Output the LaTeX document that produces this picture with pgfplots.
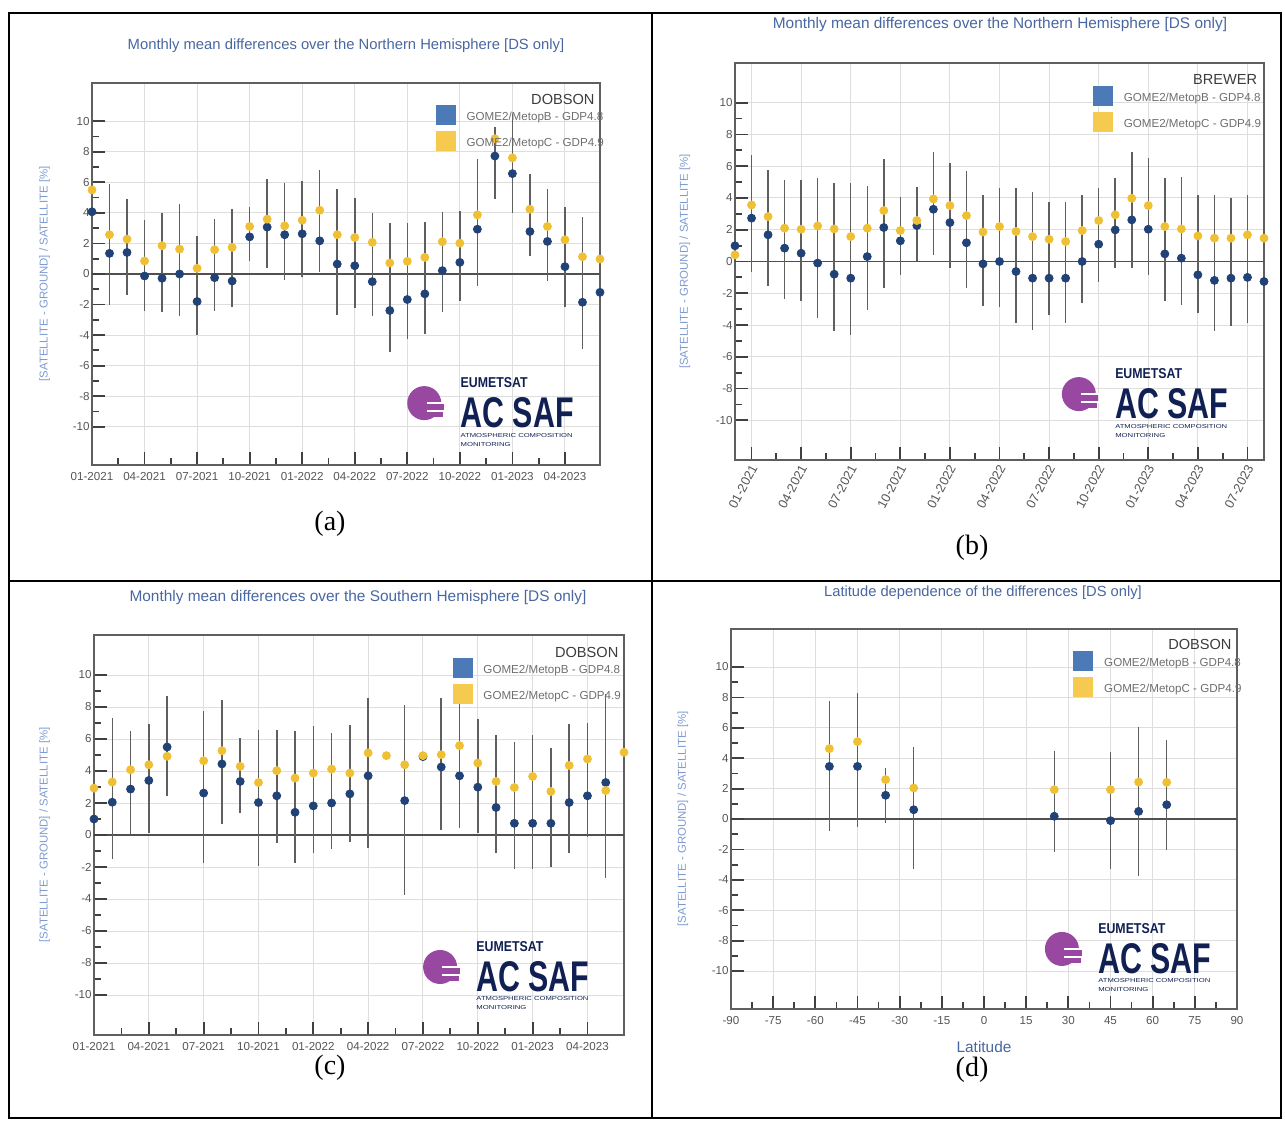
\documentclass[border=0pt]{standalone}
\usepackage{fontspec}
\setmainfont{Liberation Sans}
\newfontfamily\capfont{Liberation Serif}
\usepackage{graphicx}
\usepackage{pgfplots}
\pgfplotsset{compat=1.18}
\usepackage{pgfplotstable}

\definecolor{titleblue}{RGB}{72,102,160}
\definecolor{ylabblue}{RGB}{125,155,210}
\definecolor{ticklab}{RGB}{85,85,85}
\definecolor{dotblue}{RGB}{32,66,118}
\definecolor{dotyellow}{RGB}{240,192,52}
\definecolor{legblue}{RGB}{76,122,182}
\definecolor{legyellow}{RGB}{246,202,78}
\definecolor{legtext}{RGB}{110,110,110}
\definecolor{dobtext}{RGB}{60,60,60}
\definecolor{errgray}{RGB}{95,95,95}
\definecolor{gridgray}{RGB}{222,222,222}
\definecolor{framegray}{RGB}{95,95,95}
\definecolor{zerogray}{RGB}{80,80,80}
\definecolor{logopurple}{RGB}{152,72,160}
\definecolor{logonavy}{RGB}{16,32,82}

\newcommand\tfont{\fontsize{5.8}{7}\selectfont}
\newcommand\ylfont{\fontsize{5.7}{7}\selectfont}
\newcommand\legfont{\fontsize{5.8}{7}\selectfont}
\newcommand\dobfont{\fontsize{7.3}{8}\selectfont}

% months counted from 01-2021 = 0; b = MetopB, y = MetopC, lo/hi = spread
\pgfplotstableread{
m b y lo hi
0 4.07 5.50 nan nan
1 1.35 2.57 -2.02 5.87
2 1.41 2.28 -1.37 4.90
3 -0.13 0.85 -2.39 3.54
4 -0.28 1.85 -2.50 3.98
5 0.00 1.63 -2.72 4.57
6 -1.80 0.37 -4.02 2.50
7 -0.24 1.59 -2.39 3.59
8 -0.46 1.74 -2.17 4.24
9 2.43 3.11 0.87 4.41
10 3.07 3.59 0.37 6.20
11 2.57 3.15 -0.37 5.98
12 2.63 3.52 -0.20 6.09
13 2.17 4.17 0.10 6.80
14 0.65 2.57 -2.67 5.59
15 0.54 2.39 -2.24 5.00
16 -0.50 2.07 -2.76 4.02
17 -2.39 0.72 -5.10 3.33
18 -1.67 0.83 -4.28 3.37
19 -1.30 1.09 -3.90 3.41
20 0.22 2.11 -2.50 4.07
21 0.76 2.02 -1.74 4.13
22 2.93 3.87 -0.80 7.54
23 7.72 8.85 4.90 9.60
24 6.57 7.60 4.00 10.50
25 2.78 4.24 1.20 6.52
26 2.13 3.11 -0.43 5.54
27 0.48 2.24 -2.17 4.41
28 -1.85 1.13 -4.90 3.70
29 -1.20 0.98 -1.20 -1.20
}\tabA

\pgfplotstableread{
m b y lo hi
-1 0.99 0.42 0.99 0.99
0 2.73 3.56 -0.63 6.70
1 1.68 2.83 -1.53 5.77
2 0.84 2.10 -2.37 5.14
3 0.52 2.03 -2.50 5.14
4 -0.10 2.24 -3.56 5.28
5 -0.80 2.05 -4.36 4.93
6 -1.05 1.57 -4.60 4.93
7 0.31 2.10 -3.04 4.76
8 2.14 3.21 -1.68 6.44
9 1.30 1.95 -0.84 4.03
10 2.26 2.58 0.00 4.68
11 3.29 3.94 0.42 6.88
12 2.45 3.52 -0.42 6.18
13 1.18 2.89 -1.70 5.68
14 -0.15 1.86 -2.83 4.19
15 0.00 2.20 -2.87 4.61
16 -0.63 1.89 -3.88 4.61
17 -1.05 1.57 -4.30 4.36
18 -1.05 1.40 -3.35 3.77
19 -1.05 1.26 -3.88 3.77
20 0.00 1.95 -2.62 4.19
21 1.09 2.58 -1.26 4.61
22 1.99 2.94 -0.38 5.28
23 2.62 3.98 -0.38 6.92
24 2.03 3.52 -0.84 6.50
25 0.48 2.20 -2.50 5.24
26 0.21 2.05 -2.73 5.35
27 -0.84 1.61 -3.25 4.19
28 -1.19 1.47 -4.36 4.19
29 -1.05 1.47 -4.09 3.98
30 -1.00 1.68 -3.88 4.19
31 -1.26 1.47 -1.26 -1.26
}\tabB

\pgfplotstableread{
m b y lo hi
0 1.00 2.93 1.00 1.00
1 2.05 3.31 -1.53 7.32
2 2.87 4.08 0.00 6.49
3 3.41 4.39 0.10 6.95
4 5.50 4.92 2.41 8.68
5 nan nan nan nan
6 2.62 4.64 -1.78 7.74
7 4.44 5.27 0.67 8.41
8 3.35 4.29 1.36 6.07
9 2.03 3.28 -1.95 6.59
10 2.45 4.02 -0.52 6.59
11 1.42 3.56 -1.78 6.53
12 1.82 3.87 -1.11 6.80
13 2.00 4.12 -0.90 6.40
14 2.57 3.87 -0.42 6.90
15 3.70 5.13 -0.80 8.54
16 nan 4.96 0.88 9.00
17 2.15 4.39 -3.77 8.10
18 4.90 4.96 4.90 4.90
19 4.25 5.02 0.31 8.58
20 3.70 5.59 0.42 8.90
21 2.99 4.50 0.10 7.26
22 1.72 3.35 -1.15 6.28
23 0.73 2.97 -2.15 5.80
24 0.73 3.66 -2.15 6.23
25 0.73 2.72 -2.03 5.44
26 2.03 4.35 -1.11 6.95
27 2.45 4.75 -0.10 7.00
28 3.28 2.78 -2.66 8.79
29 nan 5.17 nan nan
}\tabC

\pgfplotstableread{
m b y lo hi
-55 3.46 4.63 -0.81 7.78
-45 3.46 5.09 -0.53 8.29
-35 1.56 2.59 -0.26 3.36
-25 0.61 2.04 -3.29 4.71
25 0.18 1.93 -2.19 4.45
45 -0.11 1.93 -3.29 4.38
55 0.50 2.43 -3.72 6.04
65 0.94 2.41 -2.01 5.21
}\tabD

\tikzset{acsaf/.pic={
  \fill[logopurple] (0pt,0pt) circle (8.5pt);
  \fill[logopurple] (5pt,-0.6pt) rectangle (9.8pt,-3.4pt);
  \fill[logopurple] (4pt,-4.6pt) rectangle (9.3pt,-7pt);
  \draw[white, line width=0.9pt] (1.2pt,0pt) -- (10.5pt,0pt);
  \draw[white, line width=0.9pt] (1.2pt,-4pt) -- (10.5pt,-4pt);
  \node[anchor=south west, inner sep=0pt, text=logonavy] at (18pt,7.5pt)
    {\resizebox{33.5pt}{5pt}{\bfseries EUMETSAT}};
  \node[anchor=south west, inner sep=0pt, text=logonavy] at (18pt,-12.5pt)
    {\resizebox{56.5pt}{15pt}{\bfseries AC SAF}};
  \node[anchor=west, inner sep=0pt, text=logonavy] at (18pt,-16pt)
    {\resizebox{56pt}{2pt}{ATMOSPHERIC COMPOSITION}};
  \node[anchor=west, inner sep=0pt, text=logonavy] at (18pt,-20.5pt)
    {\resizebox{25pt}{2pt}{MONITORING}};
}}

\pgfplotsset{
  acstyle/.style={
    scale only axis,
    ymin=-12.5, ymax=12.5,
    ytick={-10,-8,...,10},
    minor y tick num=1, minor x tick num=1,
    tick align=inside, xtick pos=left, ytick pos=left,
    major tick length=6.5pt, minor tick length=3.5pt,
    tick style={black!75, line width=0.9pt},
    grid=major, major grid style={gridgray, line width=0.5pt},
    axis line style={framegray, line width=0.8pt},
    /pgf/number format/assume math mode=true,
    tick label style={font=\tfont, text=ticklab},
    yticklabel style={inner sep=1pt},
    extra y ticks={0}, extra y tick labels={},
    extra y tick style={major grid style={zerogray, line width=0.6pt}},
    every axis y label/.style={at={(axis description cs:-0.093,0.5)}, rotate=90,
      anchor=center, font=\ylfont, text=ylabblue},
    ylabel={{[}SATELLITE - GROUND{]} / SATELLITE [\%]},
    legend style={at={(0.676,0.943)}, anchor=north west, draw=none, fill=none,
      font=\legfont, text=legtext, inner sep=0pt, row sep=1.5pt, column sep=3.5pt},
    legend cell align=left,
  },
  blues/.style={only marks, mark=*, mark size=2pt, color=dotblue,
    legend image code/.code={\fill[legblue] (0pt,-3.25pt) rectangle (9.5pt,6.25pt);},
    error bars/.cd, y dir=both, y explicit, error mark=none,
    error bar style={errgray, line width=0.75pt}},
  yellows/.style={only marks, mark=*, mark size=2pt, color=dotyellow,
    legend image code/.code={\fill[legyellow] (0pt,-3.25pt) rectangle (9.5pt,6.25pt);}},
}

% the spread bar is carried by the MetopB series
\newcommand\plotset[1]{%
  \addplot[blues] table[x=m, y=b,
    y error plus expr={\thisrow{hi}-\thisrow{b}},
    y error minus expr={\thisrow{b}-\thisrow{lo}}] {#1};
  \addlegendentry{GOME2/MetopB - GDP4.8}
  \addplot[yellows] table[x=m, y=y] {#1};
  \addlegendentry{GOME2/MetopC - GDP4.9}
}

\begin{document}
\begin{tikzpicture}
\useasboundingbox (0,0) rectangle (642.5pt,560pt);

% table frame
\draw[black, line width=1pt] (4.5pt,1pt) rectangle (640.5pt,553.5pt);
\draw[black, line width=1pt] (326pt,1pt) -- (326pt,553.5pt);
\draw[black, line width=1pt] (4.5pt,269.5pt) -- (640.5pt,269.5pt);

% (a)
\node[font=\fontsize{7.4}{8}\selectfont, text=titleblue] at (173pt,537pt)
  {Monthly mean differences over the Northern Hemisphere [DS only]};
\begin{axis}[acstyle, at={(46pt,327.5pt)}, anchor=south west,
  width=254pt, height=191pt, xmin=0, xmax=29,
  xtick={0,3,...,27},
  xticklabels={01-2021,04-2021,07-2021,10-2021,01-2022,04-2022,07-2022,10-2022,01-2023,04-2023}]
\plotset{\tabA}
\node[anchor=base east, inner sep=0pt, font=\dobfont, text=dobtext] at (rel axis cs:0.99,0.944) {DOBSON};
\pic at (rel axis cs:0.654,0.162) {acsaf};
\end{axis}
\node[font=\capfont\fontsize{14}{16}\selectfont] at (165pt,298pt) {(a)};

% (b)
\node[font=\fontsize{7.7}{8}\selectfont, text=titleblue] at (500pt,547.5pt)
  {Monthly mean differences over the Northern Hemisphere [DS only]};
\begin{axis}[acstyle, at={(367.5pt,330pt)}, anchor=south west,
  width=264.5pt, height=198.5pt, xmin=-1, xmax=31,
  xtick={0,3,...,30},
  xticklabels={01-2021,04-2021,07-2021,10-2021,01-2022,04-2022,07-2022,10-2022,01-2023,04-2023,07-2023},
  xticklabel style={font=\fontsize{6.4}{7}\selectfont, rotate=62, anchor=east, yshift=-2.5pt, xshift=1.5pt},
  ylabel style={at={(axis description cs:-0.0945,0.5)}}]
\plotset{\tabB}
\node[anchor=base east, inner sep=0pt, font=\dobfont, text=dobtext] at (rel axis cs:0.988,0.945) {BREWER};
\pic at (rel axis cs:0.65,0.166) {acsaf};
\end{axis}
\node[font=\capfont\fontsize{14}{16}\selectfont] at (486pt,286pt) {(b)};

% (c)
\node[font=\fontsize{7.7}{8}\selectfont, text=titleblue] at (179pt,261pt)
  {Monthly mean differences over the Southern Hemisphere [DS only]};
\begin{axis}[acstyle, at={(47pt,42.5pt)}, anchor=south west,
  width=265pt, height=200pt, xmin=0, xmax=29,
  xtick={0,3,...,27},
  xticklabels={01-2021,04-2021,07-2021,10-2021,01-2022,04-2022,07-2022,10-2022,01-2023,04-2023}]
\plotset{\tabC}
\node[anchor=base east, inner sep=0pt, font=\dobfont, text=dobtext] at (rel axis cs:0.99,0.945) {DOBSON};
\pic at (rel axis cs:0.653,0.17) {acsaf};
\end{axis}
\node[font=\capfont\fontsize{14}{16}\selectfont] at (165pt,26pt) {(c)};

% (d)
\node[font=\fontsize{7.35}{8}\selectfont, text=titleblue] at (491.5pt,263.5pt)
  {Latitude dependence of the differences [DS only]};
\begin{axis}[acstyle, at={(365.5pt,55.5pt)}, anchor=south west,
  width=253pt, height=190pt, xmin=-90, xmax=90,
  xtick={-90,-75,...,90},
  ylabel style={at={(axis description cs:-0.095,0.5)}},
  xlabel={Latitude},
  every axis x label/.style={at={(axis description cs:0.5,0)}, yshift=-19pt,
    anchor=center, font=\fontsize{7.7}{8}\selectfont, text=titleblue}]
\plotset{\tabD}
\node[anchor=base east, inner sep=0pt, font=\dobfont, text=dobtext] at (rel axis cs:0.99,0.945) {DOBSON};
\pic at (rel axis cs:0.654,0.158) {acsaf};
\end{axis}
\node[font=\capfont\fontsize{14}{16}\selectfont] at (486pt,25pt) {(d)};
\end{tikzpicture}
\end{document}
